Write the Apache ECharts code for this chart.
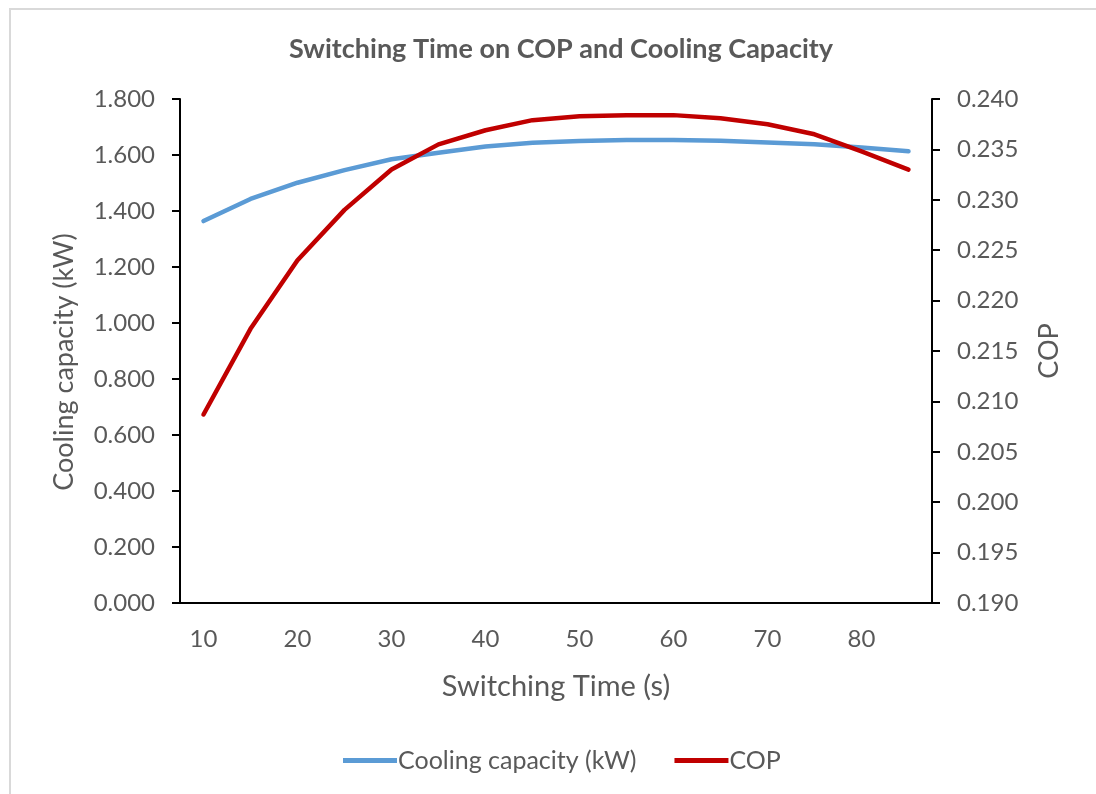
<!DOCTYPE html>
<html>
<head>
<meta charset="utf-8">
<script src="https://cdn.jsdelivr.net/npm/echarts@6/dist/echarts.min.js"></script>
<style>
  html, body { margin: 0; padding: 0; background: #ffffff; }
  #chart { width: 1096px; height: 794px; }
</style>
</head>
<body>
<div id="chart"></div>
<script>
// Switching time (s) on the category axis
const switchingTimes = ['10', '15', '20', '25', '30', '35', '40', '45', '50', '55', '60', '65', '70', '75', '80', '85'];

// Cooling capacity (kW), left axis
const coolingCapacity = [1.364, 1.443, 1.501, 1.546, 1.585, 1.608, 1.630, 1.644, 1.650, 1.654, 1.654, 1.651, 1.645, 1.638, 1.627, 1.613];

// COP, right axis
const cop = [0.2087, 0.2172, 0.2240, 0.2290, 0.2330, 0.2355, 0.2369, 0.2379, 0.2383, 0.2384, 0.2384, 0.2381, 0.2375, 0.2365, 0.2348, 0.2330];

const FONT = 'Lato, "Liberation Sans", sans-serif';
const GREY = '#595959';

const chart = echarts.init(document.getElementById('chart'), null, { renderer: 'canvas' });

const axisLineStyle = { color: '#000000', width: 2 };

chart.setOption({
  backgroundColor: '#ffffff',
  animation: false,
  title: {
    text: 'Switching Time on COP and Cooling Capacity',
    left: 556,
    textAlign: 'center',
    top: 31,
    textStyle: { fontFamily: FONT, fontSize: 27, fontWeight: 'bold', color: GREY }
  },
  graphic: [{
    type: 'rect',
    shape: { x: 10, y: 9, width: 1200, height: 900 },
    style: { fill: 'none', stroke: '#d9d9d9', lineWidth: 2 },
    silent: true,
    z: -10
  }],
  legend: {
    bottom: 16,
    left: 338,
    itemWidth: 54,
    itemHeight: 5,
    itemGap: 38,
    icon: 'rect',
    textStyle: { fontFamily: FONT, fontSize: 25, color: GREY, padding: [0, 0, 0, -4] },
    data: ['Cooling capacity (kW)', 'COP']
  },
  grid: { left: 180, right: 164, top: 99, bottom: 191, containLabel: false },
  xAxis: {
    type: 'category',
    data: switchingTimes,
    boundaryGap: true,
    name: 'Switching Time (s)',
    nameLocation: 'middle',
    nameGap: 69,
    nameTextStyle: { fontFamily: FONT, fontSize: 29, color: GREY },
    axisLine: { lineStyle: axisLineStyle },
    axisTick: { show: false },
    axisLabel: { interval: 1, margin: 24, fontFamily: FONT, fontSize: 24, color: GREY },
    splitLine: { show: false }
  },
  yAxis: [{
    type: 'value',
    min: 0,
    max: 1.8,
    interval: 0.2,
    position: 'left',
    name: 'Cooling capacity (kW)',
    nameLocation: 'middle',
    nameGap: 102,
    nameTextStyle: { fontFamily: FONT, fontSize: 27, color: GREY, padding: [0, 22, 0, 0] },
    axisLine: { show: true, lineStyle: axisLineStyle },
    axisTick: { show: true, length: 8, lineStyle: axisLineStyle },
    axisLabel: { margin: 25, fontFamily: FONT, fontSize: 24, color: GREY,
      formatter: v => v.toFixed(3) },
    splitLine: { show: false }
  }, {
    type: 'value',
    min: 0.19,
    max: 0.24,
    interval: 0.005,
    position: 'right',
    name: 'COP',
    nameLocation: 'middle',
    nameGap: 104,
    nameTextStyle: { fontFamily: FONT, fontSize: 27, color: GREY },
    axisLine: { show: true, lineStyle: axisLineStyle },
    axisTick: { show: true, length: 8, lineStyle: axisLineStyle },
    axisLabel: { margin: 25, fontFamily: FONT, fontSize: 24, color: GREY,
      formatter: v => v.toFixed(3) },
    splitLine: { show: false }
  }],
  series: [{
    name: 'Cooling capacity (kW)',
    type: 'line',
    yAxisIndex: 0,
    data: coolingCapacity,
    showSymbol: false,
    symbol: 'none',
    smooth: false,
    itemStyle: { color: '#5B9BD5' },
    lineStyle: { color: '#5B9BD5', width: 4.5, cap: 'round', join: 'round' },
    z: 2
  }, {
    name: 'COP',
    type: 'line',
    yAxisIndex: 1,
    data: cop,
    showSymbol: false,
    symbol: 'none',
    smooth: false,
    itemStyle: { color: '#C00000' },
    lineStyle: { color: '#C00000', width: 4.5, cap: 'round', join: 'round' },
    z: 3
  }]
});
</script>
</body>
</html>
